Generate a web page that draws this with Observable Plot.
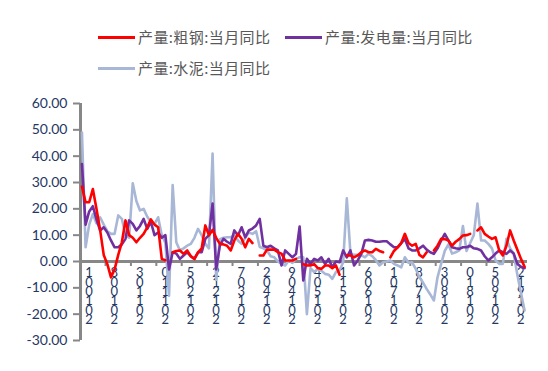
<!DOCTYPE html>
<html><head><meta charset="utf-8">
<script src="https://cdn.jsdelivr.net/npm/d3@7"></script>
<script src="https://cdn.jsdelivr.net/npm/@observablehq/plot@0.6"></script>
<style>
html,body{margin:0;padding:0;background:#fff;}
#wrap{width:548px;height:371px;overflow:hidden;}
#legend{position:relative;height:88px;width:548px;font-family:"Noto Sans CJK SC",sans-serif;font-size:15px;color:#595959;}
.item{position:absolute;display:flex;align-items:center;white-space:nowrap;letter-spacing:0.4px;line-height:22px;height:22px;}
.swatch{display:inline-block;width:37px;height:3px;margin-right:3px;}
#chart svg{display:block;}
</style></head>
<body>
<div id="wrap"><div id="legend"></div><div id="chart"></div></div>
<script>
// Series names (legend order) and colours
const seriesNames = ["产量:粗钢:当月同比", "产量:发电量:当月同比", "产量:水泥:当月同比"];
const seriesColors = ["#ff0000", "#7030a0", "#a8b7d6"];

// Monthly values, 2010-01 ... 2020-03 (null = not published)
const steel = [28.5,22.5,22.5,27.5,20,12,2.5,-1,-6,-3,2.5,7.3,15.6,10,9,7.3,9,10.5,13,16,14,13,1,0.5,null,
  3.5,4,4.2,2.9,4.2,2,1,3.5,5,13.7,10,12,9,6.7,6.5,6,4.2,8,10.5,8.6,5.4,8.6,7,null,
  2.3,2.3,4.5,4.5,4.5,3.5,3,0.4,0.4,0.4,1,null,
  -1,-1.5,-1.5,-1,-2.5,-2.8,-1.5,-1.5,-2.5,-1.5,-5,null,
  2.3,2.3,1.6,2.3,3.5,4.2,3.5,3.5,4.8,4,3.5,null,
  1.6,4,5.4,7,10.5,7,6,6.7,2.5,1.6,3.5,null,
  4.2,6,8.6,8.5,8,6,7.5,8.5,9.9,10,10.5,null,
  11.8,13,10.5,9.5,8.6,9.2,4.2,2.3,6,11.8,8,4.5,1,-2];
const power = [37,14,19,21,16,11.8,13,11,8,5.4,5.4,6.5,8.6,15.6,14.3,11.8,13.5,16.2,12.4,15,10,11,9,10,
  -3,3.5,3,1,2.3,3.5,2,1,3.5,3.5,8.6,10,
  22,-3,6,8.6,7.5,6.7,11.8,9.9,13,9.2,11.8,12.5,
  13.7,16.2,6,5.4,6,5,4.2,-1.5,4.2,2.9,1.6,2.9,
  13.3,-7.2,1,-0.9,1,0.4,1.6,-0.9,1,-2.2,0,-0.3,
  4.2,1.6,4.2,-1.5,0.4,2.9,8,8.2,8,7.5,7.5,7.7,
  7.7,6.5,5.4,5.4,7,8.6,5,4.2,4.2,5,6,4.5,
  3.5,2.9,5,8,10.5,8,5.4,5,4.8,5.4,5.4,6,
  5,4.8,4.2,2,0.4,1.6,3,4.2,3.5,2.9,4.2,3,
  -0.9,-2,-2.5];
const cement = [49,5.4,14,18,14.5,16.8,14,11.5,10.5,10.5,17.5,16.2,
  10,9,29.7,23,19.4,20,17,15,14.3,16.8,10,7,
  -13,29,7.3,4.2,5,6,6.7,9,12.4,10,6.7,5,
  41,-7,8.5,9,9.2,9.2,9.9,8,6.7,9,11,10.5,
  11.5,5.5,5,4.2,2,1.6,0,-0.9,-1.5,0.4,-0.5,1,
  1.6,1.6,-20,-2.5,-4,-2.8,-3.5,-4.7,-5,-6.6,-4,-3.4,
  -0.3,24,3,2.5,2.5,2.3,1.6,3,2,0.5,-1.5,-0.3,
  0,0.4,-0.9,-1.5,-2.2,1.6,-0.5,-0.3,-2.8,-6,-8,-10.4,
  -12.5,-14.8,-6,-0.9,4,6.5,3,3.5,4.2,13.5,4,7,
  10,22,8,8,6.7,5,0.4,-0.9,-0.9,8.6,5,2.9,
  -5,-12,-18.6];
const seriesValues = [steel, power, cement];

// Axis ticks
const yTicks = [-30, -20, -10, 0, 10, 20, 30, 40, 50, 60];
const xTickLabels = ["2010-01","2010-08","2011-03","2011-10","2012-05","2012-12","2013-07","2014-02","2014-09",
  "2015-04","2015-11","2016-06","2017-01","2017-08","2018-03","2018-10","2019-05","2019-12"];
const xTickStep = 7;

// Legend
const legendPos = [[98, 26], [285, 26], [98, 57]];
const legend = document.getElementById("legend");
seriesNames.forEach((name, s) => {
  const it = document.createElement("div");
  it.className = "item";
  it.style.left = legendPos[s][0] + "px";
  it.style.top = legendPos[s][1] + "px";
  const sw = document.createElement("span");
  sw.className = "swatch";
  sw.style.background = seriesColors[s];
  it.appendChild(sw);
  const tx = document.createElement("span");
  tx.textContent = name;
  it.appendChild(tx);
  legend.appendChild(it);
});

const rows = [];
seriesValues.forEach((vals, s) => vals.forEach((v, i) => rows.push({i, v, s})));

const axisGray = "#878787";
const navy = "#1f3864";
const xDomain = [-0.4, 122.8];
const labelIdx = xTickLabels.map((d, k) => k * xTickStep);
const drawOrder = [2, 1, 0];

const chart = Plot.plot({
  width: 548, height: 283,
  marginLeft: 80, marginRight: 21, marginTop: 15, marginBottom: 31,
  x: {domain: xDomain, axis: null},
  y: {domain: [-30, 60], axis: null},
  style: {background: "#fff", overflow: "visible", fontFamily: "Lato, sans-serif"},
  marks: [
    Plot.text(xTickLabels, {
      x: (d, k) => labelIdx[k], y: () => 0,
      text: d => d.replace("-", "").split("").reverse().join("\n"),
      dx: 7, dy: 9, lineAnchor: "top", lineHeight: 0.72,
      fontSize: 13, fill: navy, fontFamily: "Lato, sans-serif"
    }),
    Plot.ruleY([0], {x1: xDomain[0], x2: xDomain[1], stroke: axisGray, strokeWidth: 3}),
    Plot.ruleX(labelIdx.slice(1), {x: d => d - 0.5, y1: () => 0, y2: () => 0, insetBottom: -5, stroke: axisGray, strokeWidth: 2}),
    Plot.axisY(yTicks, {tickFormat: d => d.toFixed(2), tickSize: 7, tickPadding: 6, stroke: axisGray, strokeWidth: 2,
      fill: navy, fontSize: 14, fontFamily: "Lato, sans-serif", label: null}),
    Plot.ruleX([xDomain[0]], {y1: yTicks[0], y2: yTicks[yTicks.length - 1], stroke: axisGray, strokeWidth: 3}),
    ...drawOrder.map(s => Plot.lineY(rows.filter(r => r.s === s), {
      x: "i", y: "v", stroke: seriesColors[s], strokeWidth: 2.6, strokeLinejoin: "round"
    }))
  ]
});
document.getElementById("chart").appendChild(chart);
</script>
</body></html>
